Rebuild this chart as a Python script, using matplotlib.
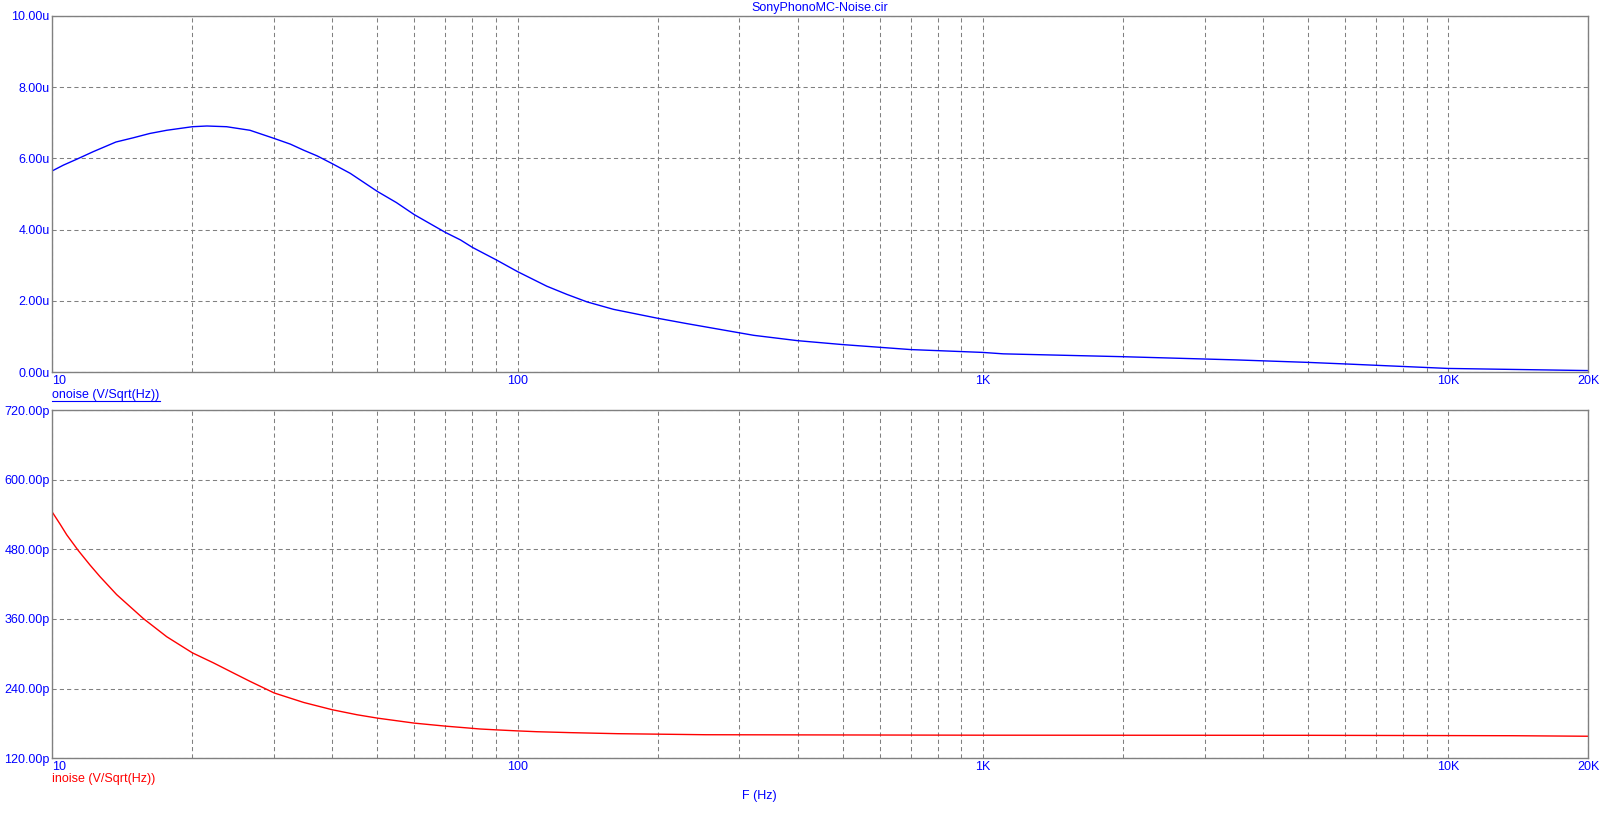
import matplotlib
matplotlib.use("Agg")
import matplotlib.pyplot as plt
from matplotlib.ticker import FixedLocator, LogLocator, NullFormatter, FixedFormatter
from matplotlib.lines import Line2D

# onoise (V/Sqrt(Hz)), in uV
freq_top = [10, 10.56, 11.3, 12.25, 13.7, 14.94, 16.2, 17.62, 20, 21.5, 23.7, 26.6, 30, 32.5,
            34.7, 37.1, 40, 43.7, 50, 54.9, 60, 65, 70, 75.4, 80, 84.7, 90, 100, 115.6, 127.7,
            141, 160.8, 200, 231, 300, 322, 400, 500, 700, 1000, 1107, 2000, 3500, 5000,
            6170, 10000, 20000]
onoise_u = [5.65, 5.81, 5.98, 6.19, 6.46, 6.58, 6.70, 6.79, 6.89, 6.91, 6.89, 6.79, 6.56, 6.40,
            6.23, 6.07, 5.85, 5.58, 5.07, 4.76, 4.42, 4.16, 3.92, 3.71, 3.50, 3.33, 3.15, 2.82,
            2.41, 2.18, 1.97, 1.76, 1.51, 1.36, 1.10, 1.03, 0.88, 0.77, 0.63, 0.55, 0.51, 0.43,
            0.34, 0.27, 0.22, 0.10, 0.04]

# inoise (V/Sqrt(Hz)), in pV
freq_bot = [10, 10.4, 10.74, 11.37, 12.05, 12.66, 13.75, 15.7, 17.62, 20, 22.2, 24.5, 26.6,
            30, 34.7, 40, 45.2, 50, 60, 70, 77.8, 83, 90, 100, 110, 130, 164, 254, 1000, 5000,
            13800, 20000]
inoise_p = [544, 523, 505, 478, 453, 433, 402, 360.6, 329.4, 301.7, 284.4, 267, 252.6,
            232.5, 216.2, 203.6, 195, 189.2, 180.6, 175.4, 172.4, 170.5, 169.0, 167.2, 165.8,
            164.2, 162.4, 160.6, 159.8, 159.6, 158.9, 158]

x_ticks = [10, 100, 1000, 10000, 20000]
x_labels = ["10", "100", "1K", "10K", "20K"]
top_ticks = [0, 2, 4, 6, 8, 10]
top_labels = ["0.00u", "2.00u", "4.00u", "6.00u", "8.00u", "10.00u"]
bot_ticks = [120, 240, 360, 480, 600, 720]
bot_labels = ["120.00p", "240.00p", "360.00p", "480.00p", "600.00p", "720.00p"]

BLUE = "#0000ff"
RED = "#ff0000"
GRAY = "#808080"
plt.rcParams["font.family"] = ["Liberation Sans", "DejaVu Sans"]

W, H = 1611, 813
fig = plt.figure(figsize=(W / 100, H / 100), dpi=100)
left, right = 52.3 / W, 1588 / W
ax1 = fig.add_axes([left, 1 - 372 / H, right - left, (372 - 16) / H])
ax2 = fig.add_axes([left, 1 - 758.3 / H, right - left, (758.3 - 410) / H])


def style(ax, yticks, ylabels):
    ax.set_xscale("log")
    ax.set_xlim(10, 20000)
    ax.set_ylim(yticks[0], yticks[-1])
    ax.xaxis.set_major_locator(FixedLocator(x_ticks))
    ax.xaxis.set_major_formatter(FixedFormatter(x_labels))
    ax.xaxis.set_minor_locator(LogLocator(base=10, subs=range(2, 10), numticks=20))
    ax.xaxis.set_minor_formatter(NullFormatter())
    ax.set_yticks(yticks)
    ax.set_yticklabels(ylabels)
    ax.tick_params(which="both", length=0, colors=BLUE, labelsize=9)
    ax.tick_params(axis="x", pad=2)
    ax.tick_params(axis="y", pad=2)
    ax.grid(which="both", color=GRAY, linestyle=(0, (4, 3)), linewidth=0.75)
    for s in ax.spines.values():
        s.set_color(GRAY)
        s.set_linewidth(1.0)
    lab = ax.get_xticklabels()
    lab[0].set_horizontalalignment("left")


style(ax1, top_ticks, top_labels)
style(ax2, bot_ticks, bot_labels)

ax1.plot(freq_top, onoise_u, color=BLUE, linewidth=1.0)
ax2.plot(freq_bot, inoise_p, color=RED, linewidth=1.0)

fig.text(820 / W, 1 - 8 / H, "SonyPhonoMC-Noise.cir", color=BLUE, fontsize=9,
         ha="center", va="center")
t_on = fig.text(left, 1 - 395 / H, "onoise (V/Sqrt(Hz))", color=BLUE, fontsize=9,
                ha="left", va="center")
fig.text(left, 1 - 779 / H, "inoise (V/Sqrt(Hz))", color=RED, fontsize=9,
         ha="left", va="center")
fig.text(759 / W, 1 - 796 / H, "F (Hz)", color=BLUE, fontsize=9, ha="center", va="center")

# underline the onoise label
fig.canvas.draw()
bb = t_on.get_window_extent()
y_ul = (bb.y0 - 0.5) / H
fig.add_artist(Line2D([bb.x0 / W, bb.x1 / W], [y_ul, y_ul], color=BLUE, linewidth=0.8))

fig.savefig("out.png", dpi=100)
